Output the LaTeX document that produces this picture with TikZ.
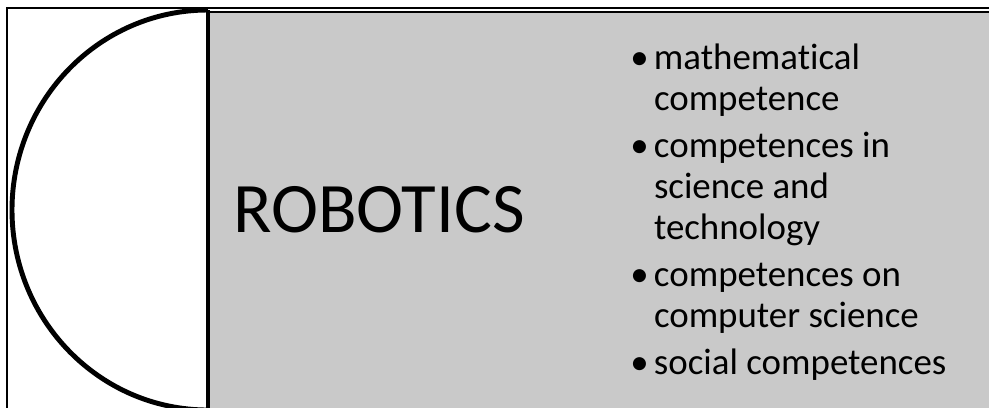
\documentclass[tikz,border=0pt]{standalone}
\usepackage{fontspec}
\setmainfont{Carlito}[Ligatures=NoCommon]
\definecolor{panelgray}{RGB}{201,201,201}
\begin{document}
\begin{tikzpicture}[x=0.02cm,y=-0.02cm]
\tikzset{every node/.style={inner sep=0},
  title/.style={font=\fontsize{40.4}{44}\selectfont},
  skills/.style={font=\fontsize{21}{23.4}\selectfont,align=left}}
    \useasboundingbox (0,0) rectangle (989,407);
    \clip (0,0) rectangle (989,407);
    \draw[line width=.8pt] (7,8) rectangle (1000,420);
    \draw[fill=panelgray,line width=.6pt] (208,12) rectangle (1000,420);
    \draw[line width=2pt] (208,10) -- (208,420);
    \draw[line width=2.8pt] (208,10) arc[start angle=270,end angle=90,x radius=196,y radius=200];

    \node[title,anchor=base west] (robotics) at (233,232) {ROBOTICS};
    \node[skills,anchor=base west] (list) at (630,69) {%
      \begin{tabular}[t]{@{}l@{\hspace{3pt}}l@{}}
        \textbullet & mathematical\\
                    & competence\\[3.4pt]
        \textbullet & competences in\\
                    & science and\\
                    & technology\\[3.4pt]
        \textbullet & competences on\\
                    & computer science\\[3.4pt]
        \textbullet & social competences
      \end{tabular}};
\end{tikzpicture}
\end{document}
